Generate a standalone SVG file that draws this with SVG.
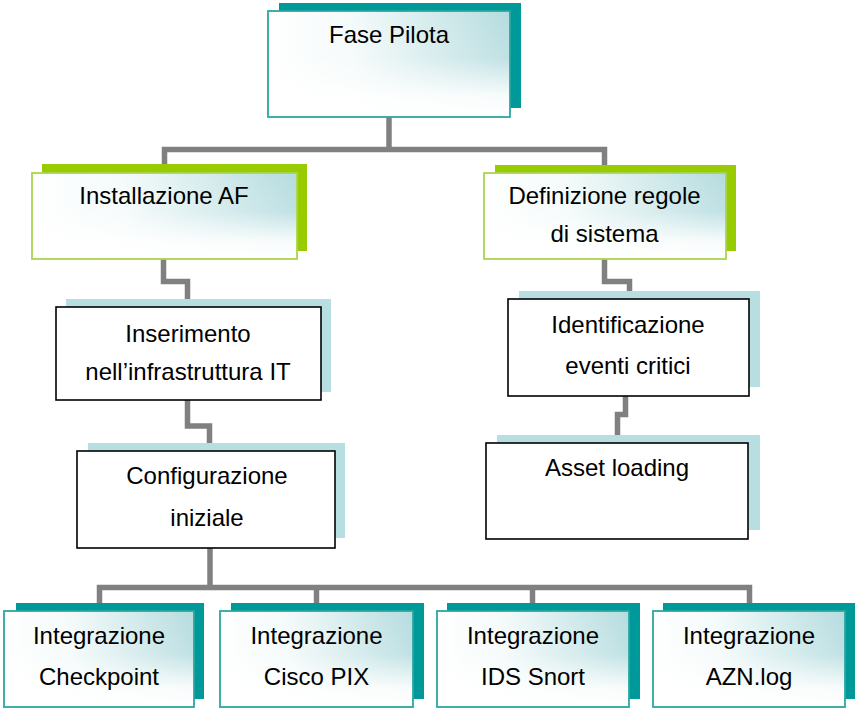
<svg xmlns="http://www.w3.org/2000/svg" width="855" height="709" viewBox="0 0 855 709">
  <defs>
    <linearGradient id="tint" x1="0" y1="0" x2="1" y2="0">
      <stop offset="0" stop-color="#ffffff"/>
      <stop offset="0.35" stop-color="#f4fafa"/>
      <stop offset="1" stop-color="#b5dcdf"/>
    </linearGradient>
    <linearGradient id="fade" x1="0" y1="0" x2="0" y2="1">
      <stop offset="0" stop-color="#ffffff" stop-opacity="0"/>
      <stop offset="0.45" stop-color="#ffffff" stop-opacity="0.15"/>
      <stop offset="0.8" stop-color="#ffffff" stop-opacity="0.9"/>
      <stop offset="1" stop-color="#ffffff" stop-opacity="1"/>
    </linearGradient>
  </defs>
  <style>
    .wire { fill: none; stroke: #808080; stroke-width: 5.5; stroke-linejoin: miter; }
    .sh-teal { fill: #009999; }
    .sh-green { fill: #99cc00; }
    .sh-blue { fill: #b7dee0; }
    .face { fill: url(#tint); }
    .fade { fill: url(#fade); }
    .rim-teal { fill: none; stroke: #2aa7a2; stroke-width: 1.8; }
    .rim-green { fill: none; stroke: #a9d54e; stroke-width: 1.8; }
    .plain { fill: #ffffff; stroke: #000000; stroke-width: 1.6; }
    text { font-family: "Liberation Sans", Arial, sans-serif; font-size: 24px; fill: #000000; text-anchor: middle; }
  </style>

  <!-- connectors -->
  <g id="connectors">
    <path class="wire" d="M389,117 V149.5"/>
    <path class="wire" d="M164.5,166 V149.5 H604.5 V166"/>
    <path class="wire" d="M163.5,259 V281.5 H187.5 V300"/>
    <path class="wire" d="M187.5,400 V426 H209.5 V444"/>
    <path class="wire" d="M604.5,259 V281.5 H629.5 V292"/>
    <path class="wire" d="M625.5,396 V414.5 H617.5 V436"/>
    <path class="wire" d="M210,548 V587.5"/>
    <path class="wire" d="M99.5,604 V587.5 H749.5 V604"/>
    <path class="wire" d="M316.5,587.5 V604"/>
    <path class="wire" d="M532.5,587.5 V604"/>
  </g>

  <!-- top -->
  <g id="fase-pilota">
    <rect class="sh-teal" x="279" y="3" width="242" height="105"/>
    <rect class="face" x="268" y="11" width="242" height="106"/>
    <rect class="fade" x="268" y="11" width="242" height="106"/>
    <rect class="rim-teal" x="268" y="11" width="242" height="106"/>
    <text x="389" y="43">Fase Pilota</text>
  </g>

  <!-- second level -->
  <g id="installazione-af">
    <rect class="sh-green" x="42" y="164" width="265" height="87"/>
    <rect class="face" x="32" y="173" width="265" height="86"/>
    <rect class="fade" x="32" y="173" width="265" height="86"/>
    <rect class="rim-green" x="32" y="173" width="265" height="86"/>
    <text x="164" y="204">Installazione AF</text>
  </g>

  <g id="definizione-regole">
    <rect class="sh-green" x="495" y="165" width="241" height="86"/>
    <rect class="face" x="484" y="173" width="242" height="86"/>
    <rect class="fade" x="484" y="173" width="242" height="86"/>
    <rect class="rim-green" x="484" y="173" width="242" height="86"/>
    <text x="604.5" y="204">Definizione regole</text>
    <text x="604.5" y="242">di sistema</text>
  </g>

  <!-- left branch -->
  <g id="inserimento">
    <rect class="sh-blue" x="66" y="299" width="265" height="93"/>
    <rect class="plain" x="56" y="307" width="265" height="93"/>
    <text x="188" y="342">Inserimento</text>
    <text x="188" y="380">nell’infrastruttura IT</text>
  </g>

  <g id="configurazione">
    <rect class="sh-blue" x="88" y="443" width="257" height="95"/>
    <rect class="plain" x="77" y="451" width="258" height="97"/>
    <text x="207" y="484">Configurazione</text>
    <text x="207" y="526">iniziale</text>
  </g>

  <!-- right branch -->
  <g id="identificazione">
    <rect class="sh-blue" x="519" y="291" width="241" height="96"/>
    <rect class="plain" x="508" y="299" width="241" height="97"/>
    <text x="628" y="333">Identificazione</text>
    <text x="628" y="374">eventi critici</text>
  </g>

  <g id="asset-loading">
    <rect class="sh-blue" x="497" y="435" width="263" height="95"/>
    <rect class="plain" x="486" y="443" width="262" height="96"/>
    <text x="617" y="476">Asset loading</text>
  </g>

  <!-- integrations -->
  <g id="integrazione-checkpoint">
    <rect class="sh-teal" x="16" y="603" width="188" height="96"/>
    <rect class="face" x="4" y="611" width="190" height="96"/>
    <rect class="fade" x="4" y="611" width="190" height="96"/>
    <rect class="rim-teal" x="4" y="611" width="190" height="96"/>
    <text x="99" y="644">Integrazione</text>
    <text x="99" y="685">Checkpoint</text>
  </g>

  <g id="integrazione-cisco">
    <rect class="sh-teal" x="231" y="603" width="193" height="96"/>
    <rect class="face" x="220" y="611" width="193" height="96"/>
    <rect class="fade" x="220" y="611" width="193" height="96"/>
    <rect class="rim-teal" x="220" y="611" width="193" height="96"/>
    <text x="316.5" y="644">Integrazione</text>
    <text x="316.5" y="685">Cisco PIX</text>
  </g>

  <g id="integrazione-snort">
    <rect class="sh-teal" x="447" y="603" width="193" height="96"/>
    <rect class="face" x="437" y="611" width="192" height="96"/>
    <rect class="fade" x="437" y="611" width="192" height="96"/>
    <rect class="rim-teal" x="437" y="611" width="192" height="96"/>
    <text x="533" y="644">Integrazione</text>
    <text x="533" y="685">IDS Snort</text>
  </g>

  <g id="integrazione-azn">
    <rect class="sh-teal" x="663" y="603" width="192" height="96"/>
    <rect class="face" x="653" y="611" width="192" height="96"/>
    <rect class="fade" x="653" y="611" width="192" height="96"/>
    <rect class="rim-teal" x="653" y="611" width="192" height="96"/>
    <text x="749" y="644">Integrazione</text>
    <text x="749" y="685">AZN.log</text>
  </g>
</svg>
